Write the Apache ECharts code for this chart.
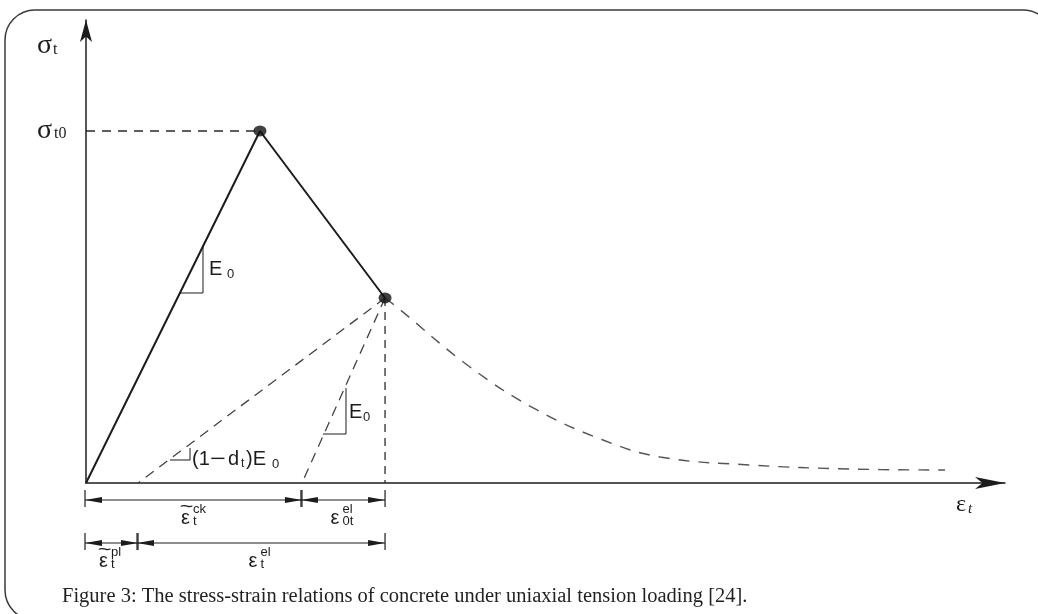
<!DOCTYPE html>
<html><head><meta charset="utf-8">
<script src="https://cdn.jsdelivr.net/npm/echarts@6/dist/echarts.min.js"></script>
<style>html,body{margin:0;padding:0;background:#fff}#c{width:1038px;height:614px}</style>
</head><body><div id="c"></div>
<script>
// ---- data (strain on x, stress on y, arbitrary units) ----
const strainRange = [0, 100];
const stressRange = [0, 100];
const loadingPath = [[0, 0], [18.93, 76.03], [32.54, 39.96]];
const keyPoints = [[18.93, 76.03], [32.54, 39.96]];
const softeningTail = [[32.54, 39.96], [33.95, 37.8], [41.78, 25.05], [49.07, 15.77], [56.26, 9.29], [62.46, 5.62], [72.25, 3.89], [83.13, 3.02], [93.47, 2.81]];
const peakGuide = [[0, 76.03], [18.93, 76.03]];
const damagedUnloading = [[32.54, 39.96], [5.66, 0]];
const elasticUnloading = [[32.54, 39.96], [23.5, 0]];
const strainMarker = [[32.54, 39.96], [32.54, 0]];
// strain brackets [from, to]
const bracketSpans = [[0, 23.5], [23.5, 32.54], [0, 5.66], [5.66, 32.54]];
const bracketRows = [0, 0, 1, 1];
const bracketLabels = [
  { base: 'ε', sup: 'ck', sub: 't', tilde: true },
  { base: 'ε', sup: 'el', sub: '0t', tilde: false },
  { base: 'ε', sup: 'pl', sub: 't', tilde: true },
  { base: 'ε', sup: 'el', sub: 't', tilde: false }
];
// slope triangles [xLeft, yBottom, xRight, yTop]
const slopeTriangles = [[10.12, 41.04, 12.73, 51.4], [25.79, 10.58, 28.29, 20.52], [9.14, 4.97, 11.32, 7.56]];
const slopeLabelKinds = ['E0', 'E0b', 'damaged'];
const stressLevel = [[0, 76.03]];
const captionText = 'Figure 3: The stress-strain relations of concrete under uniaxial tension loading [24].';

const INK = '#1c1c1c';
const SANS = 'Liberation Sans, Arial, sans-serif';
const SERIF = 'Liberation Serif, Times New Roman, serif';

function T(x, y, text, font, extra) {
  return Object.assign({ type: 'text', x: x, y: y, style: { text: text, font: font, fill: INK, align: 'left', verticalAlign: 'middle' } }, extra || {});
}
function L(x1, y1, x2, y2, w, dash) {
  return { type: 'line', shape: { x1: x1, y1: y1, x2: x2, y2: y2 }, style: { stroke: INK, lineWidth: w || 1.2, lineDash: dash || null } };
}

function renderBracket(params, api) {
  const i = params.dataIndex;
  const a = api.coord([api.value(0), 0]);
  const b = api.coord([api.value(1), 0]);
  const off = bracketRows[i] === 0 ? 17 : 60;
  const x1 = a[0] - 1, x2 = b[0], y = a[1] + off;
  const ch = [];
  ch.push(L(x1, y, x2, y, 1.2));
  ch.push(L(x1, y - 10, x1, y + 7, 1.2));
  ch.push(L(x2, y - 10, x2, y + 7, 1.2));
  ch.push({ type: 'polygon', shape: { points: [[x1, y], [x1 + 17, y - 3], [x1 + 17, y + 3]] }, style: { fill: INK } });
  ch.push({ type: 'polygon', shape: { points: [[x2, y], [x2 - 17, y - 3], [x2 - 17, y + 3]] }, style: { fill: INK } });
  const lab = bracketLabels[i];
  const scriptW = Math.max(lab.sup.length, lab.sub.length) * 7;
  const total = 11 + scriptW;
  const cx = (x1 + x2) / 2;
  const left = cx - total / 2;
  const ly = y + 18;
  ch.push(T(left, ly, lab.base, '20px ' + SANS));
  ch.push(T(left + 12, ly - 9, lab.sup, '13px ' + SANS));
  ch.push(T(left + 12, ly + 3, lab.sub, '13px ' + SANS));
  if (lab.tilde) ch.push({ type: 'text', x: left + 5.5, y: ly - 11, scaleX: 1.3, style: { text: '~', font: '18px ' + SANS, fill: INK, align: 'center', verticalAlign: 'middle' } });
  return { type: 'group', children: ch };
}

function renderSlope(params, api) {
  const i = params.dataIndex;
  const a = api.coord([api.value(0), api.value(1)]);
  const b = api.coord([api.value(2), api.value(3)]);
  const ch = [L(a[0], a[1], b[0], a[1], 1), L(b[0], a[1], b[0], b[1], 1)];
  const kind = slopeLabelKinds[i];
  const my = (a[1] + b[1]) / 2;
  if (kind === 'E0') {
    ch.push(T(b[0] + 6, my, 'E', '20px ' + SANS));
    ch.push(T(b[0] + 24, my + 5, '0', '13px ' + SANS));
  } else if (kind === 'E0b') {
    ch.push(T(b[0] + 3, my + 1, 'E', '20px ' + SANS));
    ch.push(T(b[0] + 17, my + 6, '0', '13px ' + SANS));
  } else {
    const x = b[0], y = a[1] - 1;
    ch.push(T(x + 2, y, '(1', '20px ' + SANS));
    ch.push({ type: 'text', x: x + 20, y: y, scaleX: 1.35, style: { text: '−', font: '20px ' + SANS, fill: INK, align: 'left', verticalAlign: 'middle' } });
    ch.push(T(x + 38, y, 'd', '20px ' + SANS));
    ch.push(T(x + 51, y + 5, 't', '12px ' + SANS));
    ch.push(T(x + 56, y, ')E', '20px ' + SANS));
    ch.push(T(x + 82, y + 5, '0', '13px ' + SANS));
  }
  return { type: 'group', children: ch };
}

function renderLevel(params, api) {
  const p = api.coord([api.value(0), api.value(1)]);
  return { type: 'group', children: [
    T(p[0] - 49, p[1], 'σ', '28px ' + SERIF),
    T(p[0] - 32, p[1] + 3, 't0', '16px ' + SERIF)
  ] };
}

const dashStyle = (dash, color, w) => ({ color: color || '#2a2a2a', width: w || 1.3, type: dash });

const chart = echarts.init(document.getElementById('c'), null, { renderer: 'canvas' });
chart.setOption({
  animation: false,
  backgroundColor: '#fff',
  grid: { left: 86, right: 33, top: 20, bottom: 131, outerBoundsMode: 'none' },
  xAxis: {
    type: 'value', min: strainRange[0], max: strainRange[1],
    axisLine: { onZero: false, lineStyle: { color: INK, width: 1.5 }, symbol: ['none', 'arrow'], symbolSize: [9, 30] },
    axisTick: { show: false }, axisLabel: { show: false }, splitLine: { show: false }
  },
  yAxis: {
    type: 'value', min: stressRange[0], max: stressRange[1],
    axisLine: { onZero: false, lineStyle: { color: INK, width: 1.5 }, symbol: ['none', 'arrow'], symbolSize: [9, 22] },
    axisTick: { show: false }, axisLabel: { show: false }, splitLine: { show: false }
  },
  graphic: [
    { type: 'rect', shape: { x: 5, y: 10, width: 1048, height: 610, r: 30 }, style: { fill: 'none', stroke: '#3a3a3a', lineWidth: 1.5 }, z: 100 },
    T(37, 46, 'σ', '28px ' + SERIF, { z: 100 }),
    T(53, 50, 't', '16px ' + SERIF, { z: 100 }),
    T(956, 505, 'ε', '24px ' + SERIF, { z: 100 }),
    T(968, 509, 't', 'italic 15px ' + SERIF, { z: 100 }),
    { type: 'text', x: 62, y: 597, z: 100, style: { text: captionText, font: '20.5px ' + SERIF, fill: '#231f20', align: 'left', verticalAlign: 'middle' } }
  ],
  series: [
    { type: 'line', data: peakGuide, symbol: 'none', lineStyle: dashStyle([9, 7]) },
    { type: 'line', data: damagedUnloading, symbol: 'none', lineStyle: dashStyle([10, 7], '#444') },
    { type: 'line', data: elasticUnloading, symbol: 'none', lineStyle: dashStyle([10, 7], '#444') },
    { type: 'line', data: strainMarker, symbol: 'none', lineStyle: dashStyle([8, 6]) },
    { type: 'line', data: softeningTail, symbol: 'none', smooth: 0.4, lineStyle: dashStyle([11, 9], '#555', 1.4) },
    { type: 'line', data: loadingPath, symbol: 'none', lineStyle: { color: INK, width: 2 }, z: 5 },
    { type: 'scatter', data: keyPoints, symbol: 'circle', symbolSize: [13, 11], itemStyle: { color: '#111' }, z: 6 },
    { type: 'custom', data: bracketSpans, renderItem: renderBracket, clip: false, z: 7 },
    { type: 'custom', data: slopeTriangles, renderItem: renderSlope, clip: false, z: 7 },
    { type: 'custom', data: stressLevel, renderItem: renderLevel, clip: false, z: 7 }
  ]
});
</script></body></html>
